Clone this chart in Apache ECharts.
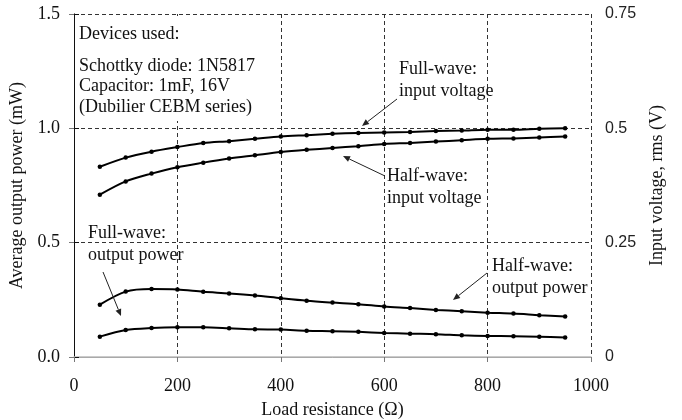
<!DOCTYPE html>
<html>
<head>
<meta charset="utf-8">
<script src="https://cdn.jsdelivr.net/npm/echarts@6/dist/echarts.min.js"></script>
<style>
  html, body { margin: 0; padding: 0; background: #fff; }
  #chart { width: 682px; height: 420px; }
</style>
</head>
<body>
<div id="chart"></div>
<script>
// Load resistance (ohm) at each measurement
const loadResistance = [50, 100, 150, 200, 250, 300, 350, 400, 450, 500, 550, 600, 650, 700, 750, 800, 850, 900, 950];

// Input voltage, rms (V) - right axis
const fullWaveInput = [0.416, 0.436, 0.449, 0.459, 0.468, 0.472, 0.477, 0.482, 0.485, 0.488, 0.490, 0.491, 0.492, 0.494, 0.495, 0.497, 0.497, 0.499, 0.500];
const halfWaveInput = [0.355, 0.384, 0.401, 0.415, 0.425, 0.434, 0.441, 0.448, 0.453, 0.457, 0.461, 0.466, 0.468, 0.471, 0.474, 0.477, 0.478, 0.480, 0.482];

// Average output power (mW) - left axis
const fullWaveOutput = [0.229, 0.286, 0.297, 0.295, 0.285, 0.278, 0.269, 0.257, 0.246, 0.238, 0.231, 0.221, 0.214, 0.206, 0.200, 0.194, 0.190, 0.183, 0.177];
const halfWaveOutput = [0.089, 0.118, 0.127, 0.130, 0.130, 0.126, 0.121, 0.120, 0.115, 0.113, 0.110, 0.105, 0.102, 0.100, 0.095, 0.092, 0.091, 0.089, 0.085];

// Axis tick labels
const xTicks = ['0', '200', '400', '600', '800', '1000'];
const leftTicks = ['0.0', '0.5', '1.0', '1.5'];
const rightTicks = ['0', '0.25', '0.5', '0.75'];

const SERIF = '"Liberation Serif", "Times New Roman", serif';
const SANS = '"Liberation Sans", Arial, sans-serif';
const INK = '#000';
const TEXT = '#111';

function pairs(ys) {
  return loadResistance.map((x, i) => [x, ys[i]]);
}

function curve(name, ys, axisIndex) {
  return {
    name: name,
    type: 'line',
    yAxisIndex: axisIndex,
    data: pairs(ys),
    smooth: 0.3,
    symbol: 'circle',
    symbolSize: 4.5,
    lineStyle: { color: INK, width: 2 },
    itemStyle: { color: INK },
    z: 5
  };
}

// Arrow: shaft plus a filled head at (x2, y2)
function arrow(x1, y1, x2, y2) {
  const ang = Math.atan2(y2 - y1, x2 - x1);
  const len = 7, half = 3;
  const bx = x2 - len * Math.cos(ang), by = y2 - len * Math.sin(ang);
  const px = -Math.sin(ang) * half, py = Math.cos(ang) * half;
  return [
    { type: 'line', z: 20, shape: { x1: x1, y1: y1, x2: bx, y2: by }, style: { stroke: '#222', lineWidth: 1 } },
    { type: 'polygon', z: 20, shape: { points: [[x2, y2], [bx + px, by + py], [bx - px, by - py]] }, style: { fill: '#222' } }
  ];
}

function label(x, y, text) {
  return {
    type: 'text', z: 20, left: x, top: y,
    style: { text: text, font: '18px ' + SERIF, fill: TEXT, lineHeight: 21.5 }
  };
}

const chart = echarts.init(document.getElementById('chart'), null, { renderer: 'canvas' });

chart.setOption({
  animation: false,
  backgroundColor: '#fff',
  grid: { left: 74, right: 91, top: 14, bottom: 63, containLabel: false, outerBoundsMode: 'none' },
  xAxis: [{
    type: 'value', min: 0, max: 1000, interval: 200,
    name: 'Load resistance (Ω)', nameLocation: 'middle', nameGap: 44,
    nameTextStyle: { fontFamily: SERIF, fontSize: 18, color: TEXT },
    axisLine: { show: true, lineStyle: { color: '#777', width: 1 } },
    axisTick: { show: true, inside: false, length: 5, lineStyle: { color: '#777' } },
    axisLabel: {
      fontFamily: SERIF, fontSize: 18, color: TEXT, margin: 20,
      formatter: v => xTicks[Math.round(v / 200)]
    },
    splitLine: { show: true, lineStyle: { color: '#333', type: [4, 3], width: 1 } }
  }, {
    // solid frame line along the top of the plot
    type: 'value', position: 'top', min: 0, max: 1000,
    axisLine: { show: true, lineStyle: { color: '#bbb', width: 1.5 } },
    axisTick: { show: false }, axisLabel: { show: false }, splitLine: { show: false }
  }],
  yAxis: [{
    type: 'value', min: 0, max: 1.5, interval: 0.5,
    name: 'Average output power (mW)', nameLocation: 'middle', nameGap: 33,
    nameTextStyle: { fontFamily: SERIF, fontSize: 18, color: TEXT },
    axisLine: { show: true, lineStyle: { color: '#777', width: 1 } },
    axisTick: { show: true, inside: false, length: 5, lineStyle: { color: '#777' } },
    axisLabel: {
      fontFamily: SERIF, fontSize: 18, color: TEXT, margin: 14,
      formatter: v => leftTicks[Math.round(v / 0.5)]
    },
    splitLine: { show: true, lineStyle: { color: '#333', type: [4, 3], width: 1 } }
  }, {
    type: 'value', min: 0, max: 0.75, interval: 0.25, position: 'right',
    name: 'Input voltage, rms (V)', nameLocation: 'middle', nameGap: 57,
    nameRotate: 90,
    nameTextStyle: { fontFamily: SERIF, fontSize: 18, color: TEXT },
    axisLine: { show: true, lineStyle: { color: '#111', width: 1 } },
    axisTick: { show: true, inside: false, length: 5, lineStyle: { color: '#111' } },
    axisLabel: {
      fontFamily: SANS, fontSize: 16, color: '#222', margin: 14,
      formatter: v => rightTicks[Math.round(v / 0.25)]
    },
    splitLine: { show: false }
  }],
  series: [
    curve('Full-wave input voltage', fullWaveInput, 1),
    curve('Half-wave input voltage', halfWaveInput, 1),
    curve('Full-wave output power', fullWaveOutput, 0),
    curve('Half-wave output power', halfWaveOutput, 0)
  ],
  graphic: [
    // component list box with white fill over the grid
    { type: 'rect', z: 15, shape: { x: 75, y: 16, width: 195, height: 105 }, style: { fill: '#fff' } },
    { type: 'text', z: 20, left: 79, top: 25, style: { text: 'Devices used:', font: '18px ' + SERIF, fill: TEXT } },
    { type: 'text', z: 20, left: 79, top: 56, style: { text: 'Schottky diode: 1N5817\nCapacitor: 1mF, 16V\n(Dubilier CEBM series)', font: '18px ' + SERIF, fill: TEXT, lineHeight: 20.5 } },

    label(399, 59, 'Full-wave:\ninput voltage'),
    ...arrow(397, 99, 362, 126),

    label(387, 166, 'Half-wave:\ninput voltage'),
    ...arrow(385, 176, 343, 156),

    label(88, 223, 'Full-wave:\noutput power'),
    ...arrow(103, 272, 121, 316),

    label(492, 256, 'Half-wave:\noutput power'),
    ...arrow(487, 273, 453, 300)
  ]
});
</script>
</body>
</html>
